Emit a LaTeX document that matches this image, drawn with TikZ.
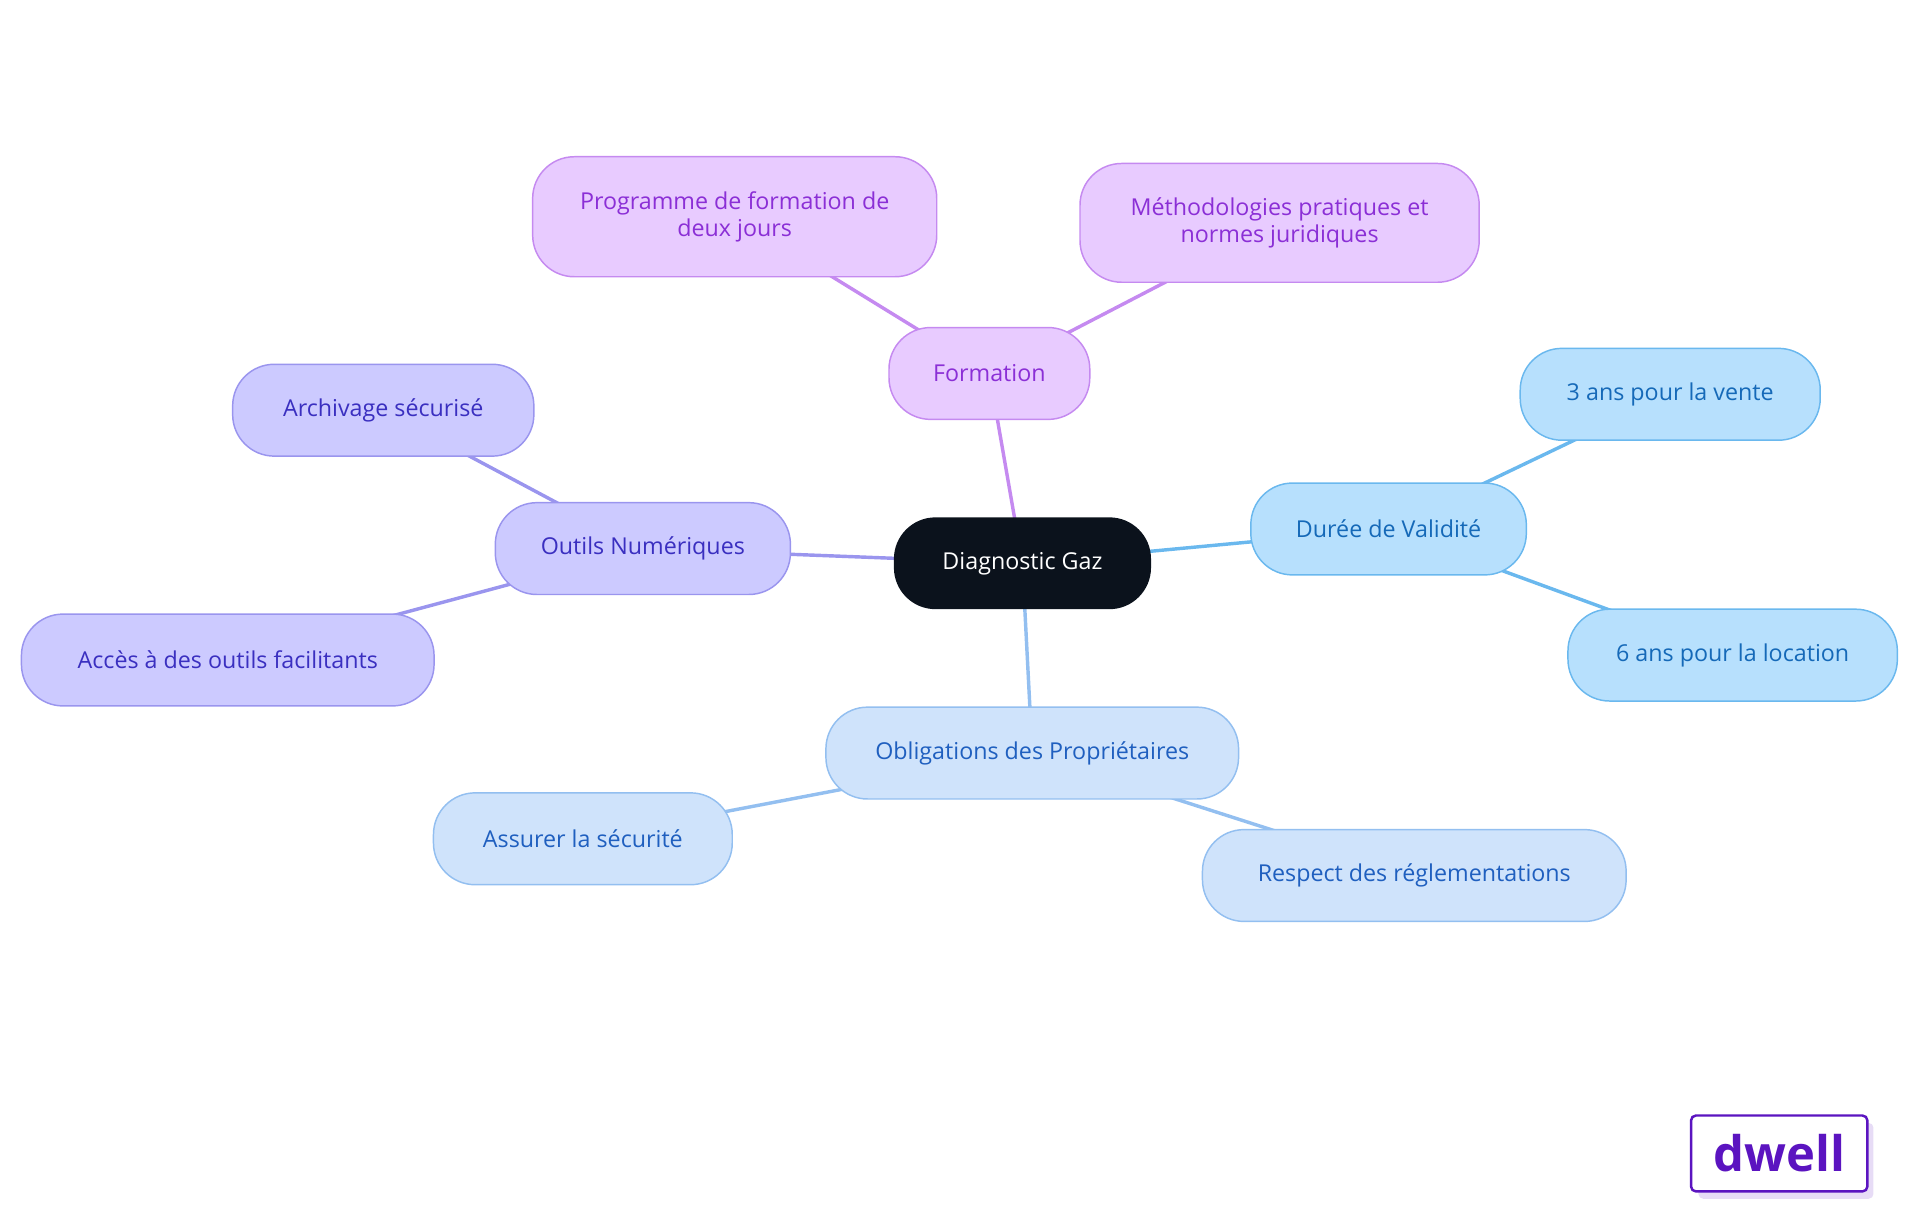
\documentclass[tikz,border=0pt]{standalone}
\usepackage{fontspec}
\setmainfont{Open Sans}
\usetikzlibrary{backgrounds}
\begin{document}
\begin{tikzpicture}[x=0.5pt,y=-0.5pt,
 box/.style={rounded corners=17pt,minimum height=37.5pt,align=center,font=\fontsize{9.5}{11}\selectfont,line width=0.6pt,inner sep=2pt},
 pur/.style={box,fill=purFill,draw=purLine,text=purText},
 ind/.style={box,fill=indFill,draw=indLine,text=indText},
 sky/.style={box,fill=skyFill,draw=skyLine,text=skyText},
 blu/.style={box,fill=bluFill,draw=bluLine,text=bluText},
 ln/.style={line width=1.4pt}]
\definecolor{purFill}{HTML}{E8CBFF}\definecolor{purLine}{HTML}{C58AF0}\definecolor{purText}{HTML}{8B2FD6}
\definecolor{indFill}{HTML}{CCCAFF}\definecolor{indLine}{HTML}{9A95EE}\definecolor{indText}{HTML}{3A2FC0}
\definecolor{skyFill}{HTML}{B7E0FD}\definecolor{skyLine}{HTML}{6AB8EE}\definecolor{skyText}{HTML}{1569B8}
\definecolor{bluFill}{HTML}{CFE3FB}\definecolor{bluLine}{HTML}{93BFF0}\definecolor{bluText}{HTML}{1F5FBF}
\definecolor{logo}{HTML}{5B14C0}
\definecolor{dark}{HTML}{0B121C}
\useasboundingbox (0,0) rectangle (1568,990);
\node[box,fill=dark,text=white,minimum width=105pt] (c) at (835,460) {Diagnostic Gaz};
\node[pur,minimum width=82pt] (f) at (808,305) {Formation};
\node[pur,minimum width=165pt,minimum height=49pt] (f1) at (600,177) {Programme de formation de\\deux jours};
\node[pur,minimum width=163pt,minimum height=48.5pt] (f2) at (1045,182) {Méthodologies pratiques et\\normes juridiques};
\node[ind,minimum width=120.5pt] (o) at (525,448) {Outils Numériques};
\node[ind,minimum width=123pt] (o1) at (313,335) {Archivage sécurisé};
\node[ind,minimum width=168.5pt] (o2) at (186,539) {Accès à des outils facilitants};
\node[sky,minimum width=112.5pt] (d) at (1134,432) {Durée de Validité};
\node[sky,minimum width=122.5pt] (d1) at (1364,322) {3 ans pour la vente};
\node[sky,minimum width=134.5pt] (d2) at (1415,535) {6 ans pour la location};
\node[blu,minimum width=168.5pt] (b) at (843,615) {Obligations des Propriétaires};
\node[blu,minimum width=122pt] (b1) at (476,685) {Assurer la sécurité};
\node[blu,minimum width=173pt] (b2) at (1155,715) {Respect des réglementations};
\begin{scope}[on background layer]
\draw[ln,purLine] (c.center) -- (f.center); \draw[ln,purLine] (f.center) -- (f1.center); \draw[ln,purLine] (f.center) -- (f2.center);
\draw[ln,indLine] (c.center) -- (o.center); \draw[ln,indLine] (o.center) -- (o1.center); \draw[ln,indLine] (o.center) -- (o2.center);
\draw[ln,skyLine] (c.center) -- (d.center); \draw[ln,skyLine] (d.center) -- (d1.center); \draw[ln,skyLine] (d.center) -- (d2.center);
\draw[ln,bluLine] (c.center) -- (b.center); \draw[ln,bluLine] (b.center) -- (b1.center); \draw[ln,bluLine] (b.center) -- (b2.center);
\end{scope}
\fill[logo!15,rounded corners=2pt] (1387,917) rectangle (1530,979);
\node[draw=logo,fill=white,line width=1pt,rounded corners=2pt,minimum width=72pt,minimum height=31pt,text=logo,font=\fontsize{20}{20}\selectfont\bfseries] (logo) at (1453,942) {dwell};
\end{tikzpicture}
\end{document}
